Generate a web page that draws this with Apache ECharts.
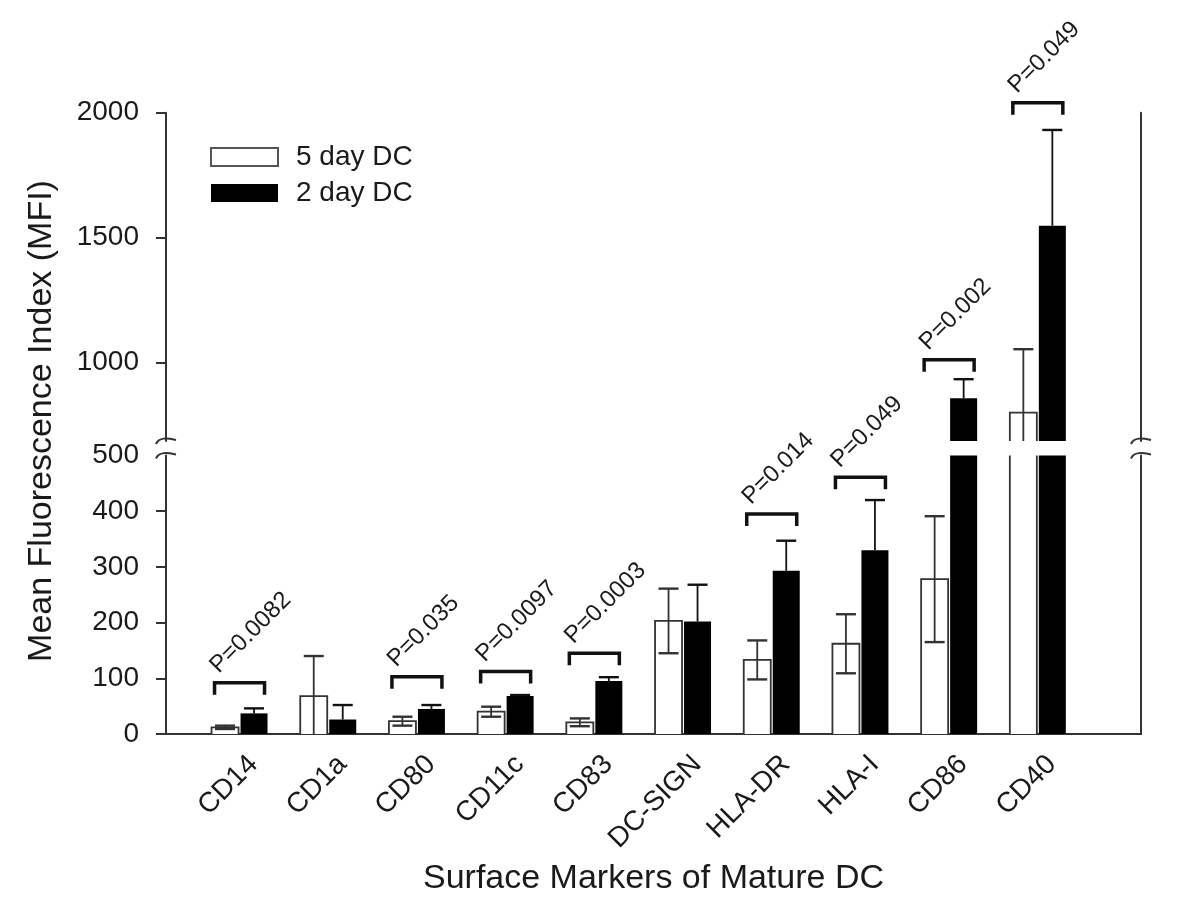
<!DOCTYPE html>
<html>
<head>
<meta charset="utf-8">
<script src="https://cdn.jsdelivr.net/npm/echarts@6/dist/echarts.min.js"></script>
<style>
html,body{margin:0;padding:0;background:#fff;}
#chart{width:1200px;height:923px;}
</style>
</head>
<body>
<div id="chart"></div>
<script>
// ---------------- data ----------------
const categories = ['CD14','CD1a','CD80','CD11c','CD83','DC-SIGN','HLA-DR','HLA-I','CD86','CD40'];
const day5Mean = [12, 68, 23, 40, 21, 203, 133, 162, 278, 800];
const day5Err  = [3, 72, 8, 9, 7, 58, 35, 53, 113, 254];
const day2Mean = [37, 26, 45, 68, 95, 202, 293, 330, 858, 1548];
const day2Err  = [9, 26, 7, 2, 7, 66, 54, 90, 76, 383];
const pIndex = [0, 2, 3, 4, 6, 7, 8, 9];
const pText  = ['P=0.0082','P=0.035','P=0.0097','P=0.0003','P=0.014','P=0.049','P=0.002','P=0.049'];
const pLevel = [92, 103, 112, 145, 395, 461, 1012, 2040];
const lowerTickValues = [0, 100, 200, 300, 400];
const upperTickValues = [1000, 1500, 2000];

// ---------------- layout / style ----------------
const FONT = 'Liberation Sans, Arial, sans-serif';
const AXIS_COLOR = '#333';
const TEXT_COLOR = '#1a1a1a';
const BAR_W = 27, BAR_GAP = 2;
const LOWER_MAX = 500;
const UPPER_MIN = 686.8, UPPER_MAX = 2000;
const X_MIN = -0.829, X_MAX = 10.163;
const LABEL_SHIFT = 0.158;

const chart = echarts.init(document.getElementById('chart'), null, {renderer: 'canvas'});

function pairs(arr) { return arr.map((v, i) => [i, v]); }
function triples(m, e) { return m.map((v, i) => [i, v, e[i]]); }

function errRender(sign, outline, color, lowerCap) {
  return function (params, api) {
    const cs = params.coordSys;
    const gTop = cs.y, gBot = cs.y + cs.height;
    const clampY = y => Math.min(Math.max(y, gTop), gBot);
    const i = api.value(0), m = api.value(1), e = api.value(2);
    const base = api.coord([i, m]);
    const cx = base[0] + sign * (BAR_W + BAR_GAP) / 2;
    const children = [];
    const lineStyle = {stroke: AXIS_COLOR, lineWidth: 1.8, fill: null};
    if (outline) {
      const yTop = base[1], yZero = api.coord([i, 0])[1];
      if (yTop < gBot) {
        const t = clampY(yTop), b = clampY(yZero);
        const xl = cx - BAR_W / 2, xr = cx + BAR_W / 2;
        if (yTop >= gTop) {
          children.push({type: 'polyline', shape: {points: [[xl, b], [xl, t], [xr, t], [xr, b]]}, style: lineStyle});
        } else {
          children.push({type: 'line', shape: {x1: xl, y1: b, x2: xl, y2: t}, style: lineStyle});
          children.push({type: 'line', shape: {x1: xr, y1: b, x2: xr, y2: t}, style: lineStyle});
        }
      }
    }
    const hi = api.coord([i, m + e])[1];
    const lo = lowerCap ? api.coord([i, Math.max(m - e, 0)])[1] : base[1];
    const t = clampY(hi), b = clampY(lo);
    const capStyle = {stroke: color, lineWidth: 2.4};
    if (b > t) {
      children.push({type: 'line', shape: {x1: cx, y1: t, x2: cx, y2: b}, style: {stroke: color, lineWidth: 1.8}});
      if (hi >= gTop && hi <= gBot) children.push({type: 'line', shape: {x1: cx - 10, y1: hi, x2: cx + 10, y2: hi}, style: capStyle});
      if (lowerCap && lo >= gTop && lo <= gBot && lo < gBot - 0.5) children.push({type: 'line', shape: {x1: cx - 10, y1: lo, x2: cx + 10, y2: lo}, style: capStyle});
    }
    return {type: 'group', children};
  };
}

function bracketRender(params, api) {
  const idx = api.value(0), level = api.value(1), k = api.value(2);
  const c = api.coord([idx, level]);
  const x0 = c[0] - 25, x1 = c[0] + 25, y = c[1];
  return {
    type: 'group',
    children: [
      {type: 'polyline', shape: {points: [[x0, y + 12], [x0, y], [x1, y], [x1, y + 12]]},
       style: {stroke: '#111', lineWidth: 3.5, fill: null, lineJoin: 'miter'}},
      {type: 'text', x: x0 + 8, y: y - 5, rotation: Math.PI / 4,
       style: {text: pText[k], fill: TEXT_COLOR, font: '24px ' + FONT, align: 'left', verticalAlign: 'bottom'}}
    ]
  };
}

function breakRender(atTop) {
  return function (params, api) {
    const cs = params.coordSys;
    const y = atTop ? cs.y : cs.y + cs.height;
    const mk = x => ({type: 'bezierCurve',
      shape: {x1: x - 10, y1: y + 3, cpx1: x - 7, cpy1: y - 4, cpx2: x + 1, cpy2: y - 3, x2: x + 10, y2: y - 1},
      style: {stroke: AXIS_COLOR, lineWidth: 2, fill: null}});
    return {type: 'group', children: [mk(cs.x), mk(cs.x + cs.width)]};
  };
}

const pLowerData = [], pUpperData = [];
pIndex.forEach((ci, k) => {
  const item = [ci, pLevel[k], k];
  if (pLevel[k] <= LOWER_MAX) pLowerData.push(item); else pUpperData.push(item);
});

const yAxisBase = {
  type: 'value',
  axisLine: {show: true, onZero: false, lineStyle: {color: AXIS_COLOR, width: 2}},
  axisTick: {show: true, inside: false, length: 10, lineStyle: {color: AXIS_COLOR, width: 2}},
  axisLabel: {color: TEXT_COLOR, fontSize: 28, fontFamily: FONT, margin: 27, formatter: v => String(v)},
  splitLine: {show: false}
};
const rightAxis = {
  type: 'value', position: 'right', min: 0, max: 1,
  axisLine: {show: true, onZero: false, lineStyle: {color: AXIS_COLOR, width: 2}},
  axisTick: {show: false}, axisLabel: {show: false}, splitLine: {show: false}
};

const option = {
  backgroundColor: '#fff',
  animation: false,
  grid: [
    {left: 166, right: 59, top: 455.5, bottom: 189},
    {left: 166, right: 59, top: 112.7, bottom: 482}
  ],
  legend: {
    orient: 'vertical', left: 205, top: 138, itemWidth: 67, itemHeight: 18, itemGap: 8,
    icon: 'rect', selectedMode: false,
    textStyle: {fontSize: 28, fontFamily: FONT, color: TEXT_COLOR, padding: [0, 0, 0, 13]},
    data: [
      {name: '5 day DC', itemStyle: {color: '#fff', borderColor: '#555', borderWidth: 2}},
      {name: '2 day DC', itemStyle: {color: '#000', borderWidth: 0}}
    ]
  },
  xAxis: [
    {
      type: 'value', gridIndex: 0, min: X_MIN, max: X_MAX,
      axisLine: {show: true, onZero: false, lineStyle: {color: AXIS_COLOR, width: 2}},
      axisTick: {show: false}, splitLine: {show: false},
      axisLabel: {
        rotate: 45, fontSize: 28, fontFamily: FONT, color: TEXT_COLOR, margin: 26,
        customValues: categories.map((c, i) => i + LABEL_SHIFT),
        formatter: v => categories[Math.round(v - LABEL_SHIFT)] || ''
      },
      name: 'Surface Markers of Mature DC', nameLocation: 'middle', nameGap: 128,
      nameTextStyle: {fontSize: 34, fontFamily: FONT, color: TEXT_COLOR}
    },
    {type: 'value', gridIndex: 1, min: X_MIN, max: X_MAX, show: false}
  ],
  yAxis: [
    Object.assign({}, yAxisBase, {gridIndex: 0, min: 0, max: LOWER_MAX, interval: 100,
      axisTick: Object.assign({}, yAxisBase.axisTick, {customValues: lowerTickValues})}),
    Object.assign({}, yAxisBase, {gridIndex: 1, min: UPPER_MIN, max: UPPER_MAX,
      axisLabel: Object.assign({}, yAxisBase.axisLabel, {customValues: upperTickValues}),
      axisTick: Object.assign({}, yAxisBase.axisTick, {customValues: upperTickValues})}),
    Object.assign({}, rightAxis, {gridIndex: 0}),
    Object.assign({}, rightAxis, {gridIndex: 1})
  ],
  graphic: [{
    type: 'text', x: 42, y: 421, rotation: Math.PI / 2,
    style: {text: 'Mean Fluorescence Index (MFI)', fill: TEXT_COLOR, font: '34px ' + FONT,
            align: 'center', verticalAlign: 'middle'}
  }],
  series: []
};

[0, 1].forEach(g => {
  option.series.push(
    {type: 'bar', name: '5 day DC', xAxisIndex: g, yAxisIndex: g, data: pairs(day5Mean),
     barWidth: BAR_W, barGap: (BAR_GAP / BAR_W * 100) + '%', itemStyle: {color: '#fff', borderWidth: 0}, clip: true, silent: true},
    {type: 'bar', name: '2 day DC', xAxisIndex: g, yAxisIndex: g, data: pairs(day2Mean),
     barWidth: BAR_W, barGap: (BAR_GAP / BAR_W * 100) + '%', itemStyle: {color: '#000', borderWidth: 0}, clip: true, silent: true},
    {type: 'custom', xAxisIndex: g, yAxisIndex: g, data: triples(day5Mean, day5Err), encode: {x: 0, y: 1},
     renderItem: errRender(-1, true, AXIS_COLOR, true), clip: false, silent: true, z: 3},
    {type: 'custom', xAxisIndex: g, yAxisIndex: g, data: triples(day2Mean, day2Err), encode: {x: 0, y: 1},
     renderItem: errRender(1, false, '#111', false), clip: false, silent: true, z: 3},
    {type: 'custom', xAxisIndex: g, yAxisIndex: g, data: g === 0 ? pLowerData : pUpperData, encode: {x: 0, y: 1},
     renderItem: bracketRender, clip: false, silent: true, z: 4},
    {type: 'custom', xAxisIndex: g, yAxisIndex: g, data: [[0, g === 0 ? 0 : UPPER_MAX]], encode: {x: 0, y: 1},
     renderItem: breakRender(g === 0), clip: false, silent: true, z: 5}
  );
});

chart.setOption(option);
</script>
</body>
</html>
